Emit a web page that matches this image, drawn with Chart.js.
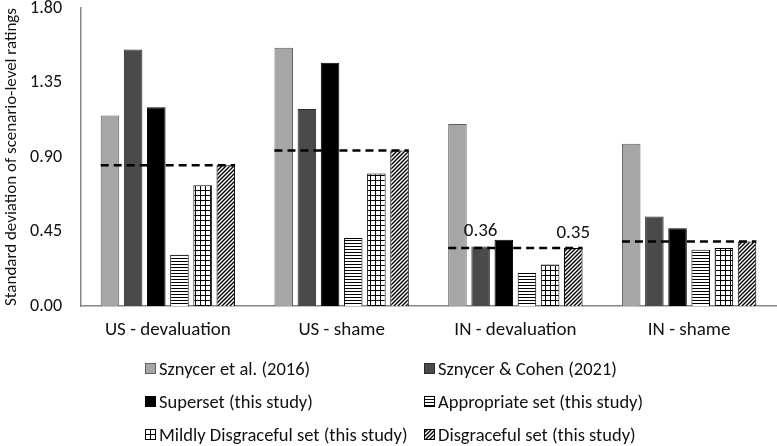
<!DOCTYPE html>
<html>
<head>
<meta charset="utf-8">
<script src="https://cdn.jsdelivr.net/npm/chart.js@4"></script>
<style>
  html, body { margin: 0; padding: 0; background: #fff; }
  #wrap { position: relative; width: 777px; height: 446px; overflow: hidden; font-family: Carlito, Lato, "Noto Sans", sans-serif; }
  #chartBox { position: absolute; left: 0; top: 0; width: 777px; height: 350px; }
  #legend { position: absolute; left: 0; top: 0; width: 777px; height: 446px; pointer-events: none; }
  .item { position: absolute; display: flex; align-items: center; height: 22px; font-size: 18.5px; color: #111; white-space: nowrap; }
  .item canvas { display: block; margin-right: 3px; }
</style>
</head>
<body>
<div id="wrap">
  <div id="chartBox"><canvas id="c"></canvas></div>
  <div id="legend"></div>
</div>
<script>
const categories = ['US - devaluation', 'US - shame', 'IN - devaluation', 'IN - shame'];
const seriesNames = [
  'Sznycer et al. (2016)',
  'Sznycer & Cohen (2021)',
  'Superset (this study)',
  'Appropriate set (this study)',
  'Mildly Disgraceful set (this study)',
  'Disgraceful set (this study)'
];
const sznycer2016   = [1.15, 1.56, 1.10, 0.98];
const sznycerCohen  = [1.55, 1.19, 0.36, 0.54];
const superset      = [1.20, 1.47, 0.40, 0.47];
const appropriate   = [0.31, 0.41, 0.20, 0.34];
const mildly        = [0.73, 0.80, 0.25, 0.35];
const disgraceful   = [0.85, 0.94, 0.35, 0.39];
const yTicks = [0, 0.45, 0.90, 1.35, 1.80];
// which bars carry a value label: [series index, category index]
const labelled = [[1, 2], [5, 2]];

const FONT = 'Carlito, Lato, "Noto Sans", sans-serif';

function makeTile(size, draw) {
  const t = document.createElement('canvas');
  t.width = size; t.height = size;
  const g = t.getContext('2d');
  g.fillStyle = '#fff'; g.fillRect(0, 0, size, size);
  g.strokeStyle = '#000'; g.fillStyle = '#000';
  draw(g, size);
  return t;
}
const tileH = makeTile(3, (g, s) => { g.fillRect(0, 0, s, 1); });
const tileGrid = makeTile(5, (g, s) => { g.fillRect(0, 0, s, 1); g.fillRect(0, 0, 1, s); });
const tileDiag = makeTile(4, (g, s) => {
  g.lineWidth = 1.4;
  g.beginPath();
  g.moveTo(-1, s + 1); g.lineTo(s + 1, -1);
  g.moveTo(-1, 1); g.lineTo(1, -1);
  g.moveTo(s - 1, s + 1); g.lineTo(s + 1, s - 1);
  g.stroke();
});
const ctx0 = document.getElementById('c').getContext('2d');
const patH = ctx0.createPattern(tileH, 'repeat');
const patGrid = ctx0.createPattern(tileGrid, 'repeat');
const patDiag = ctx0.createPattern(tileDiag, 'repeat');

const fills = ['#a6a6a6', '#4a4a4a', '#000000', patH, patGrid, patDiag];
const borders = ['#5e5e5e', '#2a2a2a', '#000000', '#000000', '#000000', '#000000'];
const seriesData = [sznycer2016, sznycerCohen, superset, appropriate, mildly, disgraceful];

const datasets = seriesData.map((d, i) => ({
  label: seriesNames[i],
  data: d,
  backgroundColor: fills[i],
  borderColor: borders[i],
  borderWidth: 1,
  categoryPercentage: 0.8,
  barPercentage: 0.8
}));

const refLines = {
  id: 'refLines',
  afterDatasetsDraw(chart) {
    const ctx = chart.ctx;
    const y = chart.scales.y;
    const first = chart.getDatasetMeta(0).data;
    const last = chart.getDatasetMeta(5).data;
    ctx.save();
    ctx.strokeStyle = '#000';
    ctx.lineWidth = 2.5;
    ctx.setLineDash([8, 5]);
    categories.forEach((c, i) => {
      const x0 = first[i].x - first[i].width / 2;
      const x1 = last[i].x + last[i].width / 2;
      const py = y.getPixelForValue(disgraceful[i]);
      ctx.beginPath();
      ctx.moveTo(x0, py); ctx.lineTo(x1, py);
      ctx.stroke();
    });
    ctx.setLineDash([]);
    ctx.fillStyle = '#111';
    ctx.font = '19px ' + FONT;
    ctx.textAlign = 'center';
    ctx.textBaseline = 'middle';
    labelled.forEach(([s, k]) => {
      const bar = chart.getDatasetMeta(s).data[k];
      const v = seriesData[s][k];
      ctx.fillText(v.toFixed(2), bar.x, y.getPixelForValue(v) - 15);
    });
    ctx.restore();
  }
};

const chart = new Chart(ctx0, {
  type: 'bar',
  data: { labels: categories, datasets },
  options: {
    responsive: true,
    maintainAspectRatio: false,
    animation: false,
    layout: { padding: { top: 8, right: 1, left: 0, bottom: 0 } },
    plugins: { legend: { display: false }, tooltip: { enabled: false } },
    scales: {
      x: {
        grid: { display: false, drawTicks: false },
        border: { display: true, color: '#868686', width: 1.5 },
        ticks: { color: '#111', font: { family: FONT, size: 19 }, padding: 13, maxRotation: 0 },
        afterFit(s) { s.height = 44; }
      },
      y: {
        min: 0, max: 1.8,
        grid: { display: false, drawTicks: false },
        border: { display: true, color: '#868686', width: 1.5 },
        afterBuildTicks(s) { s.ticks = yTicks.map(v => ({ value: v })); },
        ticks: { color: '#111', font: { family: FONT, size: 18 }, padding: 19, callback: v => Number(v).toFixed(2) },
        title: { display: true, text: 'Standard deviation of scenario-level ratings', color: '#111', font: { family: FONT, size: 17 }, padding: { top: 2, bottom: 0 } },
        afterFit(s) { s.width = 81; s.paddingTop = 0; s.paddingBottom = 0; }
      }
    }
  },
  plugins: [refLines]
});

// legend: two columns, three rows
const legend = document.getElementById('legend');
const colX = [145, 424];
const rowY = [368, 401, 434];
seriesNames.forEach((name, i) => {
  const item = document.createElement('div');
  item.className = 'item';
  item.style.left = colX[i % 2] + 'px';
  item.style.top = (rowY[Math.floor(i / 2)] - 11) + 'px';
  const sw = document.createElement('canvas');
  sw.width = 11; sw.height = 11;
  const g = sw.getContext('2d');
  g.fillStyle = (typeof fills[i] === 'string') ? fills[i] : g.createPattern([tileH, tileGrid, tileDiag][i - 3], 'repeat');
  g.fillRect(0, 0, 11, 11);
  g.strokeStyle = borders[i];
  g.lineWidth = 1;
  g.strokeRect(0.5, 0.5, 10, 10);
  item.appendChild(sw);
  const span = document.createElement('span');
  span.textContent = name;
  item.appendChild(span);
  legend.appendChild(item);
});
</script>
</body>
</html>
